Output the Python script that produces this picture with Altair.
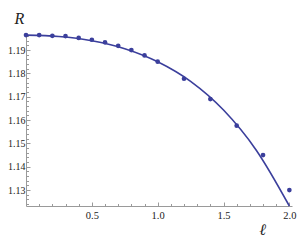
import altair as alt
import pandas as pd

# measured points
ell_pts = [0.0, 0.1, 0.2, 0.3, 0.4, 0.5, 0.6, 0.7, 0.8, 0.9, 1.0, 1.2, 1.4, 1.6, 1.8, 2.0]
R_pts = [1.1964, 1.1964, 1.1961, 1.1960, 1.1952, 1.1944, 1.1933, 1.1918, 1.1900,
         1.1877, 1.1850, 1.1777, 1.1690, 1.1576, 1.1450, 1.1300]

# fitted curve
ell_fit = [0.0, 0.25, 0.5, 0.75, 1.0, 1.25, 1.5, 1.75, 2.0]
R_fit = [1.1964, 1.1958, 1.1940, 1.1906, 1.1850, 1.1766, 1.1643, 1.1470, 1.1232]

x_major = [0.5, 1.0, 1.5, 2.0]
x_minor = [round(0.1 * i, 1) for i in range(1, 21)]
y_major = [1.13, 1.14, 1.15, 1.16, 1.17, 1.18, 1.19]
y_minor = [round(1.124 + 0.002 * i, 3) for i in range(0, 37)]

pts = pd.DataFrame({"ell": ell_pts, "R": R_pts})
fit = pd.DataFrame({"ell": ell_fit, "R": R_fit})

COLOR = "#3B3F9C"
AX = "#9A9A9A"
FONT = "Liberation Serif"

xs = alt.Scale(domain=[0, 2.02], nice=False, zero=False)
ys = alt.Scale(domain=[1.1232, 1.1973], nice=False, zero=False)

main_x = alt.Axis(orient="bottom", values=x_major, format=".1f", ticks=False, grid=False,
                  domain=True, domainColor=AX, labelFont=FONT, labelFontSize=10.5,
                  labelColor="#222", labelPadding=4, title="ℓ", titleFont=FONT,
                  titleFontSize=16, titleFontStyle="italic", titleFontWeight="normal",
                  titleColor="#222", titleX=236, titleY=28, titleAlign="center",
                  titleBaseline="alphabetic")
main_y = alt.Axis(orient="left", values=y_major, format=".2f", ticks=False, grid=False,
                  domain=True, domainColor=AX, labelFont=FONT, labelFontSize=10,
                  labelColor="#222", labelPadding=1, title="R", titleFont=FONT,
                  titleFontSize=16, titleFontStyle="italic", titleFontWeight="normal",
                  titleColor="#222", titleAngle=0, titleX=-7, titleY=-10,
                  titleAlign="center", titleBaseline="alphabetic")

def tick_axis(orient, vals, size):
    return alt.Axis(orient=orient, values=vals, labels=False, domain=False, grid=False,
                    ticks=True, tickSize=size, offset=-size, tickColor=AX, title=None)

line = alt.Chart(fit).mark_line(interpolate="monotone", color=COLOR, strokeWidth=1.6).encode(
    x=alt.X("ell:Q", scale=xs, axis=main_x),
    y=alt.Y("R:Q", scale=ys, axis=main_y),
)
major = alt.Chart(pts).mark_circle(size=22, color=COLOR, opacity=1).encode(
    x=alt.X("ell:Q", scale=xs, axis=tick_axis("bottom", x_major, 4)),
    y=alt.Y("R:Q", scale=ys, axis=tick_axis("left", y_major, 4)),
)
minor = alt.Chart(pts).mark_circle(size=1, opacity=0).encode(
    x=alt.X("ell:Q", scale=xs, axis=tick_axis("bottom", x_minor, 2.5)),
    y=alt.Y("R:Q", scale=ys, axis=tick_axis("left", y_minor, 2.5)),
)

chart = alt.layer(minor, line, major).resolve_axis(x="independent", y="independent").properties(
    width=266, height=173,
    autosize=alt.AutoSizeParams(type="none"),
    padding={"left": 18, "top": 25, "right": 5, "bottom": 30},
).configure_view(stroke=None)

chart.save("out.html", embed_options={"renderer": "svg", "actions": False})
